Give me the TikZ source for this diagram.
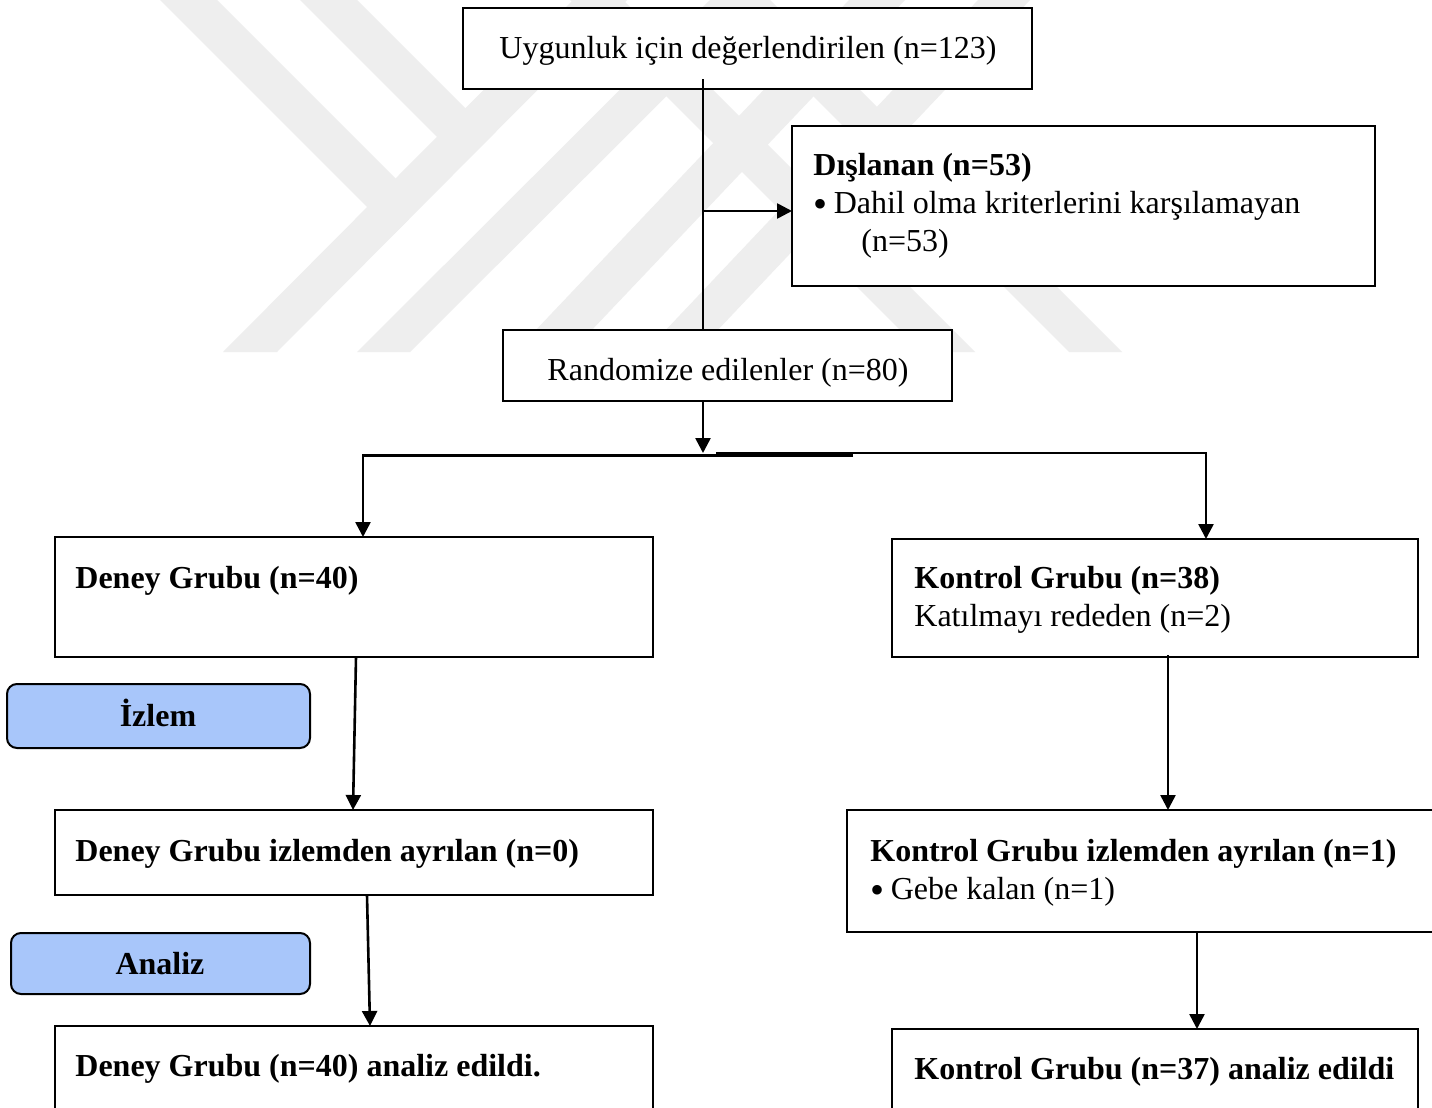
\documentclass[tikz,border=0pt]{standalone}
\usepackage{fontspec}
\setmainfont{Liberation Serif}
\usetikzlibrary{arrows.meta}
\definecolor{wm}{HTML}{EEEEEE}
\definecolor{phase}{HTML}{A8C6FA}
\newcommand{\bigbul}{\raisebox{-0.13em}{\scalebox{1.25}{•}}\hspace{0.2em}}
\begin{document}
\begin{tikzpicture}[x=0.5pt,y=-0.5pt,
  box/.style={draw=black,line width=1.1pt,fill=white,rectangle,inner sep=0pt,outer sep=0pt},
  phasebox/.style={draw=black,line width=1pt,fill=phase,rounded corners=5pt,rectangle,inner sep=0pt,outer sep=0pt},
  txt/.style={inner sep=0pt,anchor=base west,font=\fontsize{16}{19}\selectfont},
  btxt/.style={inner sep=0pt,anchor=base west,font=\fontsize{16}{19}\selectfont\bfseries},
  ctxt/.style={inner sep=0pt,anchor=base,font=\fontsize{16}{19}\selectfont\bfseries},
  arr/.style={line width=1.3pt,-{Triangle[length=7.5pt,width=7.5pt]}},
  ln/.style={line width=1.3pt},
  band/.style={fill=wm,draw=none}]
\useasboundingbox (0,0) rectangle (1432,1108);
\fill[white] (0,0) rectangle (1432,1108);

% watermark
\fill[band] (223,352) -- (277,352) -- (627,0) -- (573,0) -- cycle;
\fill[band] (160,0) -- (217,0) -- (422,205) -- (393.5,233.5) -- cycle;
\fill[band] (300,0) -- (357,0) -- (492,135) -- (463.5,163.5) -- cycle;
\fill[band] (357,352) -- (410,352) -- (763,0) -- (710,0) -- cycle;
\fill[band] (515,352) -- (571,352) -- (905,0) -- (849,0) -- cycle;
\fill[band] (645,352) -- (697,352) -- (1030,0) -- (978,0) -- cycle;
\fill[band] (922,352) -- (975,352) -- (623,0) -- (570,0) -- cycle;
\fill[band] (1069,352) -- (1122,352) -- (770,0) -- (717,0) -- cycle;

% boxes
\node[box,minimum width=284.5pt,minimum height=40.5pt] (uyg) at (747.5,48.5) {};
\node[box,minimum width=291.5pt,minimum height=80pt] (dis) at (1083.5,206) {};
\node[box,minimum width=224.5pt,minimum height=35.5pt] (rnd) at (727.5,365.5) {};
\node[box,minimum width=299pt,minimum height=60pt] (deney) at (354,597) {};
\node[box,minimum width=263pt,minimum height=59pt] (kontrol) at (1155,598) {};
\node[phasebox,minimum width=151.5pt,minimum height=32pt] (izlem) at (158.5,716) {};
\node[box,minimum width=299pt,minimum height=42.5pt] (deneyiz) at (354,852.5) {};
\node[phasebox,minimum width=149.5pt,minimum height=30.5pt] (analiz) at (160.5,963.5) {};
\node[box,minimum width=296.5pt,minimum height=61pt] (kontroliz) at (1143.5,871) {};
\node[box,minimum width=299pt,minimum height=44.5pt] (deneyan) at (354,1070.5) {};
\node[box,minimum width=263pt,minimum height=43pt] (kontrolan) at (1155,1072) {};

% texts
\node[inner sep=0pt,anchor=base,font=\fontsize{16}{19}\selectfont] (tuyg) at (748,58) {Uygunluk için değerlendirilen (n=123)};
\node[btxt] (tdis1) at (813,175) {Dışlanan (n=53)};
\node[txt] (tdis2) at (813,213) {\bigbul Dahil olma kriterlerini karşılamayan};
\node[txt] (tdis3) at (861,251) {(n=53)};
\node[inner sep=0pt,anchor=base,font=\fontsize{16}{19}\selectfont] (trnd) at (728,380) {Randomize edilenler (n=80)};
\node[btxt] (tdeney) at (75,588) {Deney Grubu (n=40)};
\node[btxt] (tkon1) at (914,588) {Kontrol Grubu (n=38)};
\node[txt] (tkon2) at (914,626) {Katılmayı rededen (n=2)};
\node[ctxt] (tizlem) at (158,726) {İzlem};
\node[btxt] (tdiz) at (75,861) {Deney Grubu izlemden ayrılan (n=0)};
\node[btxt] (tkiz1) at (870,861) {Kontrol Grubu izlemden ayrılan (n=1)};
\node[txt] (tkiz2) at (870,899) {\bigbul Gebe kalan (n=1)};
\node[ctxt] (tanaliz) at (160,974) {Analiz};
\node[btxt] (tdan) at (75,1076) {Deney Grubu (n=40) analiz edildi.};
\node[btxt] (tkan) at (914,1079) {Kontrol Grubu (n=37) analiz edildi};

% connector coordinates
\coordinate (xa) at (703,0);
\coordinate (br) at (703,211);
\coordinate (sp) at (703,453);
\coordinate (hl) at (853,455.5);
\coordinate (hlc) at (363,455.5);
\coordinate (hr) at (716,453);
\coordinate (hrc) at (1206,453);
\coordinate (d1) at (356,0);
\coordinate (d2) at (353,0);
\coordinate (d3) at (367,0);
\coordinate (d4) at (370,0);
\coordinate (k1x) at (1168,0);
\coordinate (k2x) at (1197,0);

% connectors
\draw[ln,shorten <=-5pt] (uyg.south -| xa) -- (rnd.north -| xa);
\draw[arr] (br) -- (br -| dis.west);
\draw[arr] (rnd.south -| xa) -- (sp);
\draw[arr] (hl) -- (hlc) -- (hlc |- deney.north);
\draw[arr] (hr) -- (hrc) -- (hrc |- kontrol.north);
\draw[arr] (deney.south -| d1) -- (deneyiz.north -| d2);
\draw[arr] (deneyiz.south -| d3) -- (deneyan.north -| d4);
\draw[arr,shorten <=-1pt] (kontrol.south -| k1x) -- (kontroliz.north -| k1x);
\draw[arr] (kontroliz.south -| k2x) -- (kontrolan.north -| k2x);
\end{tikzpicture}
\end{document}
